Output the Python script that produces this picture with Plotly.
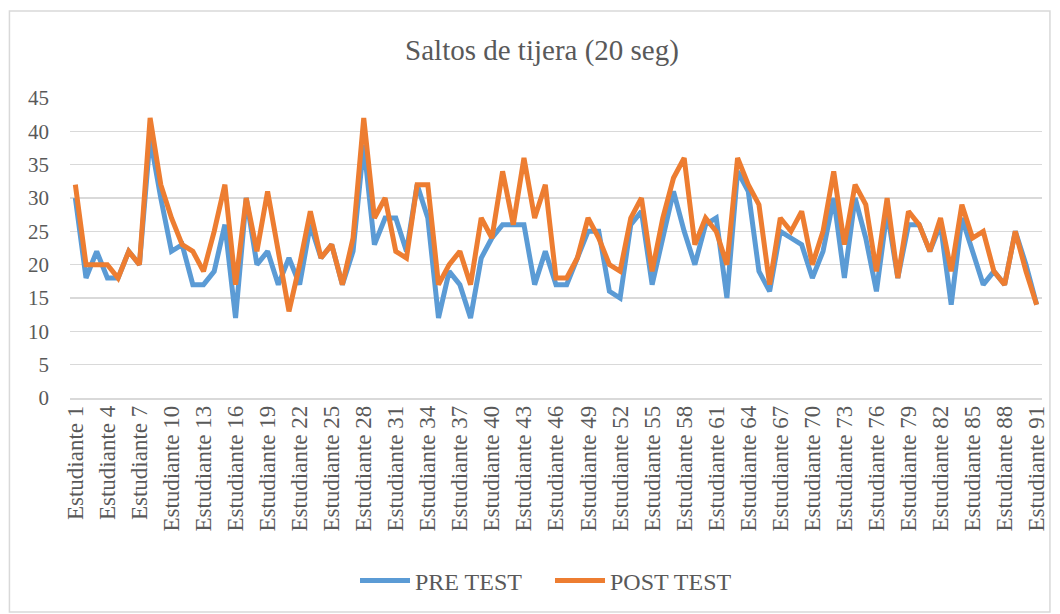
import plotly.graph_objects as go

students = [f"Estudiante {i}" for i in range(1, 92)]

pre_test = [30, 18, 22, 18, 18, 22, 20, 39, 30, 22,
            23, 17, 17, 19, 26, 12, 30, 20, 22, 17,
            21, 17, 26, 21, 23, 17, 22, 38, 23, 27,
            27, 22, 32, 27, 12, 19, 17, 12, 21, 24,
            26, 26, 26, 17, 22, 17, 17, 21, 25, 25,
            16, 15, 26, 28, 17, 24, 31, 25, 20, 26,
            27, 15, 34, 31, 19, 16, 25, 24, 23, 18,
            22, 30, 18, 30, 24, 16, 28, 18, 26, 26,
            22, 26, 14, 27, 22, 17, 19, 17, 25, 20,
            14]

post_test = [32, 20, 20, 20, 18, 22, 20, 42, 32, 27,
             23, 22, 19, 25, 32, 17, 30, 22, 31, 22,
             13, 20, 28, 21, 23, 17, 24, 42, 27, 30,
             22, 21, 32, 32, 17, 20, 22, 17, 27, 24,
             34, 26, 36, 27, 32, 18, 18, 21, 27, 24,
             20, 19, 27, 30, 19, 27, 33, 36, 23, 27,
             25, 20, 36, 32, 29, 17, 27, 25, 28, 20,
             25, 34, 23, 32, 29, 19, 30, 18, 28, 26,
             22, 27, 19, 29, 24, 25, 19, 17, 25, 19,
             14]

y_ticks = [0, 5, 10, 15, 20, 25, 30, 35, 40, 45]

FONT = "Liberation Serif, Times New Roman, serif"
GREY = "#595959"

fig = go.Figure()
fig.add_trace(go.Scatter(x=students, y=pre_test, mode="lines", name="PRE TEST",
                         line=dict(color="#5B9BD5", width=5)))
fig.add_trace(go.Scatter(x=students, y=post_test, mode="lines", name="POST TEST",
                         line=dict(color="#ED7D31", width=5)))

W, H = 1060, 614
L, R, T, B = 70, 11, 98, 216
pw, ph = W - L - R, H - T - B

fig.update_layout(
    width=W, height=H,
    margin=dict(l=L, r=R, t=T, b=B),
    paper_bgcolor="white", plot_bgcolor="white",
    font=dict(family=FONT, color=GREY),
    title=dict(text="Saltos de tijera (20 seg)", x=542 / W, xref="container", xanchor="center",
               y=1 - 50 / H, yanchor="middle", yref="container",
               font=dict(size=29, family=FONT, color=GREY)),
    showlegend=True,
    legend=dict(orientation="h", x=550 / W, xanchor="center", xref="container",
                y=1 - 581 / H, yanchor="middle", yref="container",
                font=dict(size=24, family=FONT, color=GREY),
                entrywidth=130, itemwidth=50, tracegroupgap=0),
    xaxis=dict(type="category", range=[-0.5, 90.5], tickmode="array",
               tickvals=students[::3], ticktext=students[::3], tickangle=-90,
               tickfont=dict(size=23, family=FONT, color=GREY),
               showgrid=False, showline=True, linecolor="#D9D9D9", linewidth=1.5,
               ticks="", ticklabelstandoff=-3, zeroline=False, fixedrange=True),
    yaxis=dict(range=[0, 45], tickmode="array", tickvals=y_ticks,
               tickfont=dict(size=21, family=FONT, color=GREY),
               showgrid=True, gridcolor="#D9D9D9", gridwidth=1.5,
               showline=False, zeroline=False, ticks="", ticklabelstandoff=20,
               fixedrange=True),
    shapes=[dict(type="rect", xref="paper", yref="paper",
                 x0=(9 - L) / pw, x1=(1057 - L) / pw,
                 y0=(H - B - 612) / ph, y1=(H - B - 11) / ph,
                 line=dict(color="#D9D9D9", width=1.5), fillcolor="rgba(0,0,0,0)",
                 layer="below")],
)

fig.write_html("out.html", config={"displayModeBar": False, "staticPlot": True},
               post_script="document.body.style.margin='0';document.body.style.padding='0';")
